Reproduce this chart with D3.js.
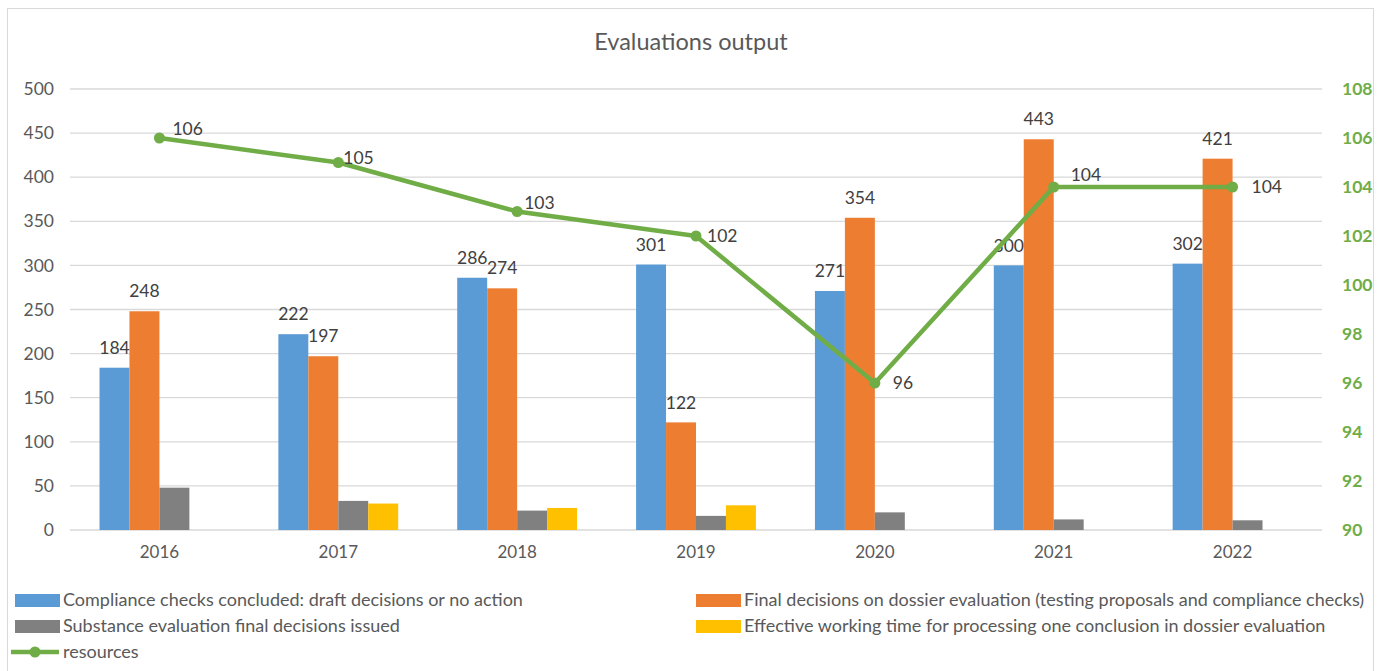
<!DOCTYPE html>
<html>
<head>
<meta charset="utf-8">
<script src="https://cdn.jsdelivr.net/npm/d3@7"></script>
<style>
  body { margin: 0; background: #fff; font-family: Lato, "Open Sans", sans-serif; }
  .tick text { fill: #595959; }
</style>
</head>
<body>
<div id="chart"></div>
<script>
// Evaluations output: grouped bars (left axis) + resources line (right axis)

var years = ["2016", "2017", "2018", "2019", "2020", "2021", "2022"];
var compliance = [184, 222, 286, 301, 271, 300, 302];
var finalDecisions = [248, 197, 274, 122, 354, 443, 421];
var substance = [48, 33, 22, 16, 20, 12, 11];
var workingTime = [null, 30, 25, 28, null, null, null];
var resources = [106, 105, 103, 102, 96, 104, 104];

var seriesNames = [
  "Compliance checks concluded: draft decisions or no action",
  "Final decisions on dossier evaluation (testing proposals and compliance checks)",
  "Substance evaluation final decisions issued",
  "Effective working time for processing one conclusion in dossier evaluation"
];
var seriesColors = ["#5B9BD5", "#ED7D31", "#808080", "#FFC000"];
var lineColor = "#70AD47";

var svgWidth = 1391;
var svgHeight = 671;

var margin = { top: 89, right: 69, bottom: 141, left: 70 };
var width = svgWidth - margin.left - margin.right;
var height = svgHeight - margin.top - margin.bottom;

var svg = d3.select("#chart")
  .append("svg")
  .attr("width", svgWidth)
  .attr("height", svgHeight);

// chart frame
svg.append("rect")
  .attr("x", 7.5).attr("y", 8.5)
  .attr("width", 1366).attr("height", 668)
  .attr("fill", "#fff")
  .attr("stroke", "#d9d9d9");

svg.append("text")
  .attr("x", 691).attr("y", 50)
  .attr("text-anchor", "middle")
  .attr("fill", "#595959")
  .style("font-size", "23.5px")
  .text("Evaluations output");

var chartGroup = svg.append("g")
  .attr("transform", `translate(${margin.left}, ${margin.top})`);

var series = [compliance, finalDecisions, substance, workingTime];

var x0 = d3.scaleBand()
  .domain(years)
  .range([0, width])
  .paddingInner(0.33)
  .paddingOuter(0.165);

var x1 = d3.scaleBand()
  .domain(d3.range(series.length))
  .range([0, x0.bandwidth()]);

var yLeft = d3.scaleLinear().domain([0, 500]).range([height, 0]);
var yRight = d3.scaleLinear().domain([90, 108]).range([height, 0]);

// gridlines
chartGroup.append("g")
  .selectAll("line")
  .data(yLeft.ticks(10))
  .enter()
  .append("line")
  .attr("x1", 0).attr("x2", width)
  .attr("y1", d => yLeft(d)).attr("y2", d => yLeft(d))
  .attr("stroke", "#d9d9d9")
  .attr("stroke-width", 1.3);

// left axis
var leftAxis = d3.axisLeft(yLeft).ticks(10).tickSize(0).tickPadding(16);
chartGroup.append("g")
  .call(leftAxis)
  .call(g => g.select(".domain").remove())
  .selectAll("text")
  .style("font-size", "17.5px")
  .style("font-family", "Lato, sans-serif");

// right axis
var rightAxis = d3.axisRight(yRight).ticks(9).tickSize(0).tickPadding(20);
chartGroup.append("g")
  .attr("transform", `translate(${width}, 0)`)
  .call(rightAxis)
  .call(g => g.select(".domain").remove())
  .selectAll("text")
  .style("font-size", "17.5px")
  .style("font-weight", "bold")
  .style("font-family", "Lato, sans-serif")
  .style("fill", lineColor);

// bottom axis
var bottomAxis = d3.axisBottom(x0).tickSize(0).tickPadding(16);
chartGroup.append("g")
  .attr("transform", `translate(0, ${height})`)
  .call(bottomAxis)
  .call(g => g.select(".domain").remove())
  .selectAll("text")
  .style("font-size", "17px")
  .style("font-family", "Lato, sans-serif");

// bars
var groups = chartGroup.selectAll(".year")
  .data(years)
  .enter()
  .append("g")
  .attr("class", "year")
  .attr("transform", d => `translate(${x0(d)}, 0)`);

groups.selectAll("rect")
  .data((d, i) => series.map((s, k) => ({ k: k, v: s[i] })).filter(e => e.v != null))
  .enter()
  .append("rect")
  .attr("x", d => x1(d.k))
  .attr("y", d => yLeft(d.v))
  .attr("width", x1.bandwidth())
  .attr("height", d => height - yLeft(d.v))
  .attr("fill", d => seriesColors[d.k]);

// bar labels for first two series
groups.selectAll("text.barLabel")
  .data((d, i) => [0, 1].map(k => ({ k: k, v: series[k][i] })))
  .enter()
  .append("text")
  .attr("class", "barLabel")
  .attr("x", d => x1(d.k) + x1.bandwidth() / 2)
  .attr("y", d => yLeft(d.v) - 20)
  .attr("dy", "0.35em")
  .attr("text-anchor", "middle")
  .attr("fill", "#404040")
  .style("font-size", "17.5px")
  .text(d => d.v);

// resources line
var cx = d => x0(d) + x0.bandwidth() / 2;
var line = d3.line()
  .x((d, i) => cx(years[i]))
  .y(d => yRight(d));

chartGroup.append("path")
  .datum(resources)
  .attr("d", line)
  .attr("fill", "none")
  .attr("stroke", lineColor)
  .attr("stroke-width", 4.5)
  .attr("stroke-linejoin", "round");

chartGroup.selectAll("circle.res")
  .data(resources)
  .enter()
  .append("circle")
  .attr("class", "res")
  .attr("cx", (d, i) => cx(years[i]))
  .attr("cy", d => yRight(d))
  .attr("r", 5.5)
  .attr("fill", lineColor);

// label nudges (placement only)
var labelDx = [13, 5, 7, 11, 18, 17, 19];
var labelDy = [-9, -5, -9, 0, 0, -12, 0];

chartGroup.selectAll("text.resLabel")
  .data(resources)
  .enter()
  .append("text")
  .attr("class", "resLabel")
  .attr("x", (d, i) => cx(years[i]) + labelDx[i])
  .attr("y", (d, i) => yRight(d) + labelDy[i])
  .attr("dy", "0.35em")
  .attr("fill", "#404040")
  .style("font-size", "17.5px")
  .text(d => d);

// legend
var legendItems = [
  { name: seriesNames[0], color: seriesColors[0], x: 15, y: 600 },
  { name: seriesNames[1], color: seriesColors[1], x: 696, y: 600 },
  { name: seriesNames[2], color: seriesColors[2], x: 15, y: 626 },
  { name: seriesNames[3], color: seriesColors[3], x: 696, y: 626 }
];

var legend = svg.append("g");
legendItems.forEach(function(item) {
  legend.append("rect")
    .attr("x", item.x).attr("y", item.y - 6)
    .attr("width", 45).attr("height", 13)
    .attr("fill", item.color);
  legend.append("text")
    .attr("x", item.x + 48).attr("y", item.y)
    .attr("dy", "0.35em")
    .attr("fill", "#595959")
    .style("font-size", "18px")
    .text(item.name);
});

legend.append("line")
  .attr("x1", 11).attr("x2", 59)
  .attr("y1", 652).attr("y2", 652)
  .attr("stroke", lineColor)
  .attr("stroke-width", 4.5);
legend.append("circle")
  .attr("cx", 35).attr("cy", 652).attr("r", 5.5)
  .attr("fill", lineColor);
legend.append("text")
  .attr("x", 63).attr("y", 652)
  .attr("dy", "0.35em")
  .attr("fill", "#595959")
  .style("font-size", "18px")
  .text("resources");
</script>
</body>
</html>
